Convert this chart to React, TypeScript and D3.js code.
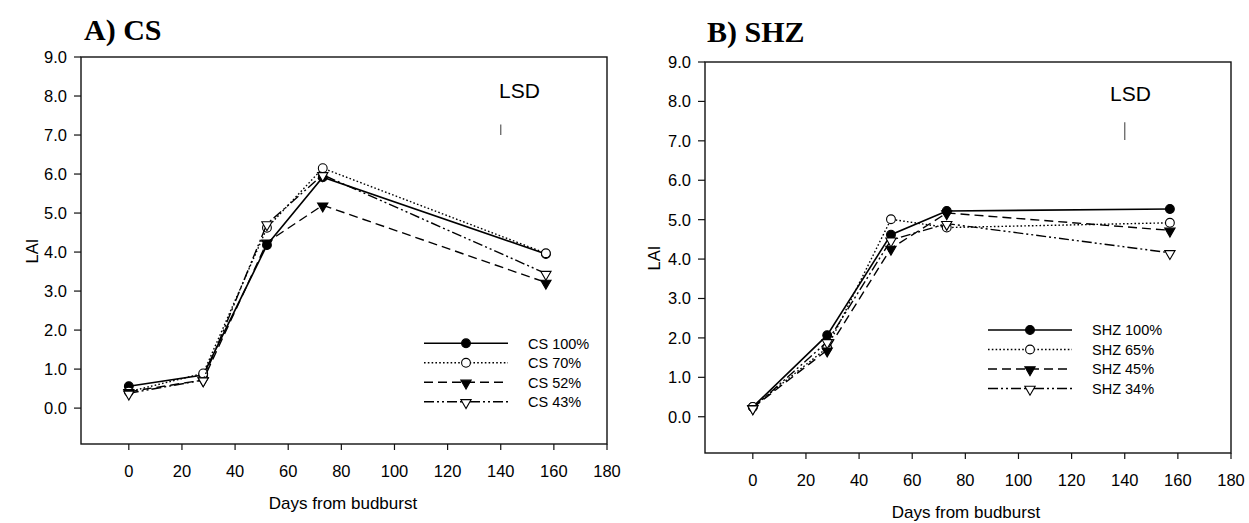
import React from "react";
import * as d3 from "d3";

// ---- data ----
const days = [0, 28, 52, 73, 157];
const xTicks = [0, 20, 40, 60, 80, 100, 120, 140, 160, 180];
const yTicks = [0, 1, 2, 3, 4, 5, 6, 7, 8, 9];

const csLabels = ["CS 100%", "CS 70%", "CS 52%", "CS 43%"];
const cs100 = [0.56, 0.85, 4.18, 5.92, 3.95];
const cs70 = [0.42, 0.89, 4.62, 6.15, 3.97];
const cs52 = [0.42, 0.72, 4.25, 5.2, 3.22];
const cs43 = [0.38, 0.72, 4.72, 5.98, 3.45];

const shzLabels = ["SHZ 100%", "SHZ 65%", "SHZ 45%", "SHZ 34%"];
const shz100 = [0.25, 2.07, 4.62, 5.22, 5.27];
const shz65 = [0.25, 1.75, 5.01, 4.8, 4.92];
const shz45 = [0.23, 1.69, 4.27, 5.17, 4.73];
const shz34 = [0.22, 1.9, 4.48, 4.9, 4.16];

const lsdDay = 140;
const lsdA = [7.0, 7.27];
const lsdB = [7.02, 7.47];

// ---- styles per series index ----
const styles = [
  { dash: "none", width: 1.6, marker: "circle", fill: "#000" },
  { dash: "1.6,2.2", width: 1.4, marker: "circle", fill: "#fff" },
  { dash: "9,5", width: 1.4, marker: "tri", fill: "#000" },
  { dash: "10,3,2,3,2,3", width: 1.4, marker: "tri", fill: "#fff" },
];

const FONT = "Liberation Sans, Arial, sans-serif";

function Marker({ x, y, kind, fill }: { x: number; y: number; kind: string; fill: string }) {
  if (kind === "circle") {
    return <circle cx={x} cy={y} r={4.4} fill={fill} stroke="#000" strokeWidth={1.1} />;
  }
  const p = d3.symbol().type(d3.symbolTriangle).size(46)() as string;
  return (
    <path d={p} transform={`translate(${x},${y + 0.8}) rotate(180)`} fill={fill} stroke="#000" strokeWidth={1.1} />
  );
}

type PanelProps = {
  left: number; top: number; right: number; bottom: number;
  title: string; titleX: number; titleY: number;
  series: number[][]; labels: string[];
  lsd: number[]; lsdTextX: number; lsdTextY: number;
  legX0: number; legY0: number;
  laiX: number; laiY: number;
  xTitleX: number;
};

function Panel(p: PanelProps) {
  const x = d3.scaleLinear().domain([-18, 180]).range([p.left, p.right]);
  const y = d3.scaleLinear().domain([-0.92, 9]).range([p.bottom, p.top]);
  const line = d3
    .line<number>()
    .x((_, i) => x(days[i]))
    .y((d) => y(d));
  const legStep = 19.5;
  return (
    <g>
      <text x={p.titleX} y={p.titleY} fontFamily="Liberation Serif, Times New Roman, serif" fontWeight="bold" fontSize={30}>
        {p.title}
      </text>
      {/* frame */}
      <rect x={p.left} y={p.top} width={p.right - p.left} height={p.bottom - p.top} fill="none" stroke="#111" strokeWidth={1.4} />
      {/* y ticks */}
      {yTicks.map((t) => (
        <g key={"y" + t}>
          <line x1={p.left - 7} x2={p.left} y1={y(t)} y2={y(t)} stroke="#111" strokeWidth={1.2} />
          <text x={p.left - 14} y={y(t)} dy="0.36em" textAnchor="end" fontFamily={FONT} fontSize={16.5}>
            {t.toFixed(1)}
          </text>
        </g>
      ))}
      {/* x ticks */}
      {xTicks.map((t) => (
        <g key={"x" + t}>
          <line x1={x(t)} x2={x(t)} y1={p.bottom} y2={p.bottom + 6} stroke="#111" strokeWidth={1.2} />
          <text x={x(t)} y={p.bottom + 33} textAnchor="middle" fontFamily={FONT} fontSize={16.5}>
            {t}
          </text>
        </g>
      ))}
      <text x={p.xTitleX} y={p.bottom + 65} textAnchor="middle" fontFamily={FONT} fontSize={17}>
        Days from budburst
      </text>
      <text transform={`translate(${p.laiX},${p.laiY}) rotate(-90)`} textAnchor="middle" fontFamily={FONT} fontSize={16.5}>
        LAI
      </text>
      {/* LSD */}
      <text x={p.lsdTextX} y={p.lsdTextY} fontFamily={FONT} fontSize={21}>
        LSD
      </text>
      <line x1={x(lsdDay)} x2={x(lsdDay)} y1={y(p.lsd[0])} y2={y(p.lsd[1])} stroke="#666" strokeWidth={1.3} />
      {/* series */}
      {p.series.map((s, i) => (
        <g key={"s" + i}>
          <path d={line(s) as string} fill="none" stroke="#000" strokeWidth={styles[i].width} strokeDasharray={styles[i].dash} />
          {s.map((v, j) => (
            <Marker key={j} x={x(days[j])} y={y(v)} kind={styles[i].marker} fill={styles[i].fill} />
          ))}
        </g>
      ))}
      {/* legend */}
      {p.labels.map((lab, i) => {
        const ly = p.legY0 + i * legStep;
        return (
          <g key={"l" + i}>
            <line x1={p.legX0} x2={p.legX0 + 84} y1={ly} y2={ly} stroke="#000" strokeWidth={styles[i].width} strokeDasharray={styles[i].dash} />
            <Marker x={p.legX0 + 42} y={ly} kind={styles[i].marker} fill={styles[i].fill} />
            <text x={p.legX0 + 104} y={ly} dy="0.36em" fontFamily={FONT} fontSize={14.5}>
              {lab}
            </text>
          </g>
        );
      })}
    </g>
  );
}

export default function App() {
  return (
    <svg width={1249} height={523} style={{ position: "absolute", left: 0, top: 0, background: "#fff" }}>
      <rect width={1249} height={523} fill="#fff" />
      <Panel
        left={81} top={57} right={607} bottom={444}
        title="A) CS" titleX={84} titleY={39.5}
        series={[cs100, cs70, cs52, cs43]} labels={csLabels}
        lsd={lsdA} lsdTextX={499} lsdTextY={98}
        legX0={424} legY0={343.3}
        laiX={38} laiY={251}
        xTitleX={343}
      />
      <Panel
        left={705} top={62} right={1231} bottom={453}
        title="B) SHZ" titleX={707} titleY={41.5}
        series={[shz100, shz65, shz45, shz34]} labels={shzLabels}
        lsd={lsdB} lsdTextX={1110} lsdTextY={100.7}
        legX0={988} legY0={330}
        laiX={660} laiY={258}
        xTitleX={966}
      />
    </svg>
  );
}
